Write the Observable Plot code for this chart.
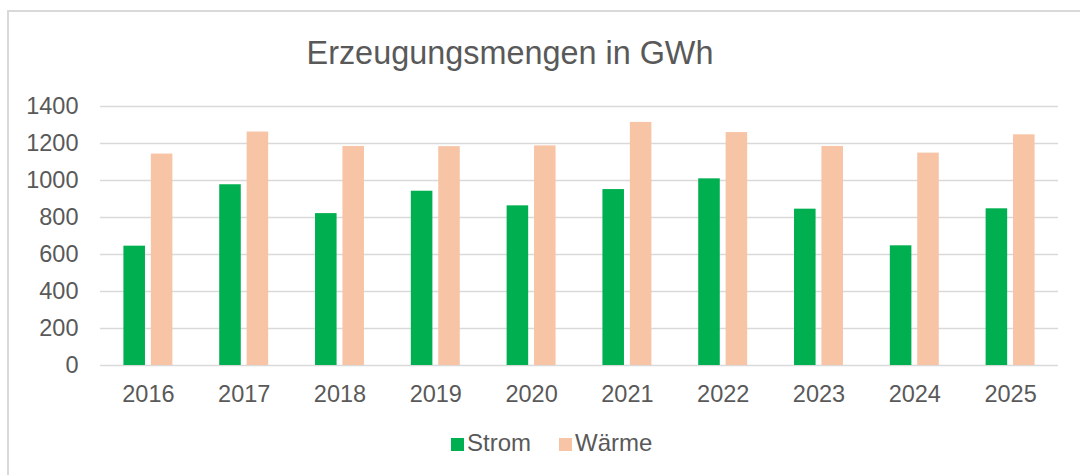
<!DOCTYPE html>
<html>
<head>
<meta charset="utf-8">
<script src="https://cdn.jsdelivr.net/npm/d3@7"></script>
<script src="https://cdn.jsdelivr.net/npm/@observablehq/plot@0.6"></script>
<style>
  html, body { margin: 0; padding: 0; background: #fff; width: 1080px; height: 475px; overflow: hidden; }
  #wrap { position: relative; width: 1080px; height: 475px; font-family: "Liberation Sans", Arial, sans-serif; color: #595959; }
  #frame { position: absolute; left: 7px; top: 10px; width: 1200px; height: 600px; border-left: 2px solid #d9d9d9; border-top: 2px solid #d9d9d9; }
  #title { position: absolute; left: 0; top: 31px; width: 1020px; text-align: center; font-size: 32.4px; line-height: 44px; }
  #chart { position: absolute; left: 0; top: 0; }
  #legend { position: absolute; left: 0; top: 429px; width: 1080px; height: 28px; font-size: 24px; }
  .item { position: absolute; top: 0; line-height: 28px; }
  .sw { position: absolute; top: 9px; width: 13px; height: 13px; }
</style>
</head>
<body>
<div id="wrap">
  <div id="frame"></div>
  <div id="title">Erzeugungsmengen in GWh</div>
  <div id="chart"></div>
  <div id="legend"></div>
</div>
<script>
const years = ["2016", "2017", "2018", "2019", "2020", "2021", "2022", "2023", "2024", "2025"];
const series = ["Strom", "Wärme"];
const strom = [645, 977, 821, 942, 863, 951, 1009, 845, 647, 847];
const waerme = [1143, 1262, 1184, 1183, 1187, 1314, 1259, 1184, 1148, 1247];
const yTicks = [0, 200, 400, 600, 800, 1000, 1200, 1400];
const colors = ["#00B050", "#F8C4A6"];

const stromData = years.map((yr, i) => ({year: yr, value: strom[i]}));
const waermeData = years.map((yr, i) => ({year: yr, value: waerme[i]}));

const inset = 27.4;

const chart = Plot.plot({
  width: 1080,
  height: 475,
  marginTop: 106,
  marginBottom: 110,
  marginLeft: 100,
  marginRight: 22,
  style: {fontFamily: "'Liberation Sans', Arial, sans-serif", fontSize: "23.5px", color: "#595959", background: "transparent", overflow: "visible"},
  x: {domain: years, paddingInner: 0.489, paddingOuter: 0.2445, round: false, label: null},
  y: {domain: [0, 1400], label: null},
  marks: [
    Plot.ruleY(yTicks, {stroke: "#d9d9d9", strokeWidth: 1.5}),
    Plot.barY(stromData, {x: "year", y: "value", fill: colors[0], insetRight: inset}),
    Plot.barY(waermeData, {x: "year", y: "value", fill: colors[1], insetLeft: inset}),
    Plot.axisY({ticks: yTicks, tickFormat: d => String(d), tickSize: 0, tickPadding: 22, fontSize: 23.5, label: null, fill: "#595959"}),
    Plot.axisX({tickSize: 0, tickPadding: 20, fontSize: 23.5, label: null, fill: "#595959"})
  ]
});
document.getElementById("chart").appendChild(chart);

const legend = document.getElementById("legend");
const legendPos = [{sw: 451, tx: 467}, {sw: 559, tx: 575}];
series.forEach((s, i) => {
  const sw = document.createElement("div");
  sw.className = "sw";
  sw.style.left = legendPos[i].sw + "px";
  sw.style.background = colors[i];
  legend.appendChild(sw);
  const t = document.createElement("div");
  t.className = "item";
  t.style.left = legendPos[i].tx + "px";
  t.textContent = s;
  legend.appendChild(t);
});
</script>
</body>
</html>
